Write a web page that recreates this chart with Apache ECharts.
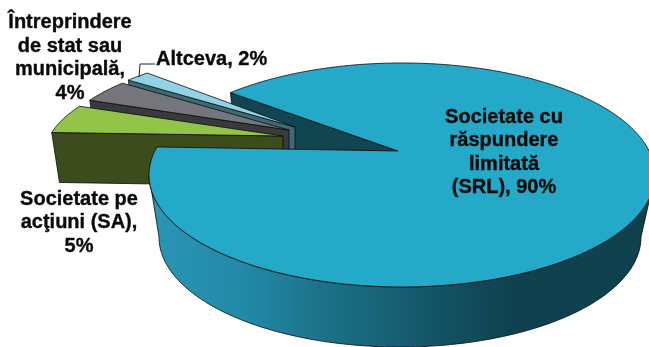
<!DOCTYPE html>
<html>
<head>
<meta charset="utf-8">
<style>html,body{margin:0;padding:0;background:#fff}#chart{width:649px;height:347px}</style>
<script src="https://cdn.jsdelivr.net/npm/echarts@6/dist/echarts.min.js"></script>
</head>
<body>
<div id="chart"></div>
<script>
// Data
const categories = ['Societate cu răspundere limitată (SRL)', 'Societate pe acţiuni (SA)', 'Întreprindere de stat sau municipală', 'Altceva'];
const shares = [90, 5, 4, 2];
const labels = [
  'Societate cu\nrăspundere\nlimitată\n(SRL), 90%',
  'Societate pe\nacţiuni (SA),\n5%',
  'Întreprindere\nde stat sau\nmunicipală,\n4%',
  'Altceva, 2%'
];
const topColors = ['#24a9c9', '#93c449', '#75767b', '#8fd3e5'];
const wallColors = ['#11454f', '#3d4c1c', '#3a3a3c', '#3e6a76'];

// View of the tilted disc
const DEG_PER_PERCENT = 3.6;
const START_ANGLE = 308.2;       // degrees clockwise from the far side
const TILT = 0.214;              // how far perspective pulls the pie centre to the far side
const SIDE_ANGLE = 12.4;         // silhouette of the disc, degrees past 90/270 (from TILT)
const mainTop = {ax: 398, ay: 151, rx: 253, ry: 112, dx: 4};
const mainBottom = {ax: 396, ay: 213.5, rx: 241, ry: 110, dx: 4};
const explode = [null,
  {x: -115, y: -15, rx: 243, brx: 235},
  {x: -109, y: -21, rx: 238, brx: 230},
  {x: -103, y: -24, rx: 238, brx: 230}];
const sliceSize = {ry: 97, depth: 50};
const sliceOrder = [0, 4, 3, 2];
const labelPlace = [
  {x: 504, y: 152.5, align: 'center'},
  {x: 79, y: 222.5, align: 'center'},
  {x: 70, y: 58, align: 'center'},
  {x: 156, y: 59, align: 'left'}
];

function project(e, deg) {
  const a = deg * Math.PI / 180, u = Math.sin(a), v = Math.cos(a);
  const w = 1 + TILT * v;
  const X = Math.sqrt(1 - TILT * TILT) * u / w;
  const Y = (v + TILT) / w;
  const cx = e.ax + e.dx, cy = e.ay + TILT * e.ry;
  return [cx + e.rx * X, cy - e.ry * Y];
}
function arc(e, from, to) {
  const pts = [], n = Math.max(2, Math.ceil(Math.abs(to - from)));
  for (let i = 0; i <= n; i++) pts.push(project(e, from + (to - from) * i / n));
  return pts;
}
function face(points, fill, z2) {
  return {type: 'polygon', z2, shape: {points},
    style: {fill, stroke: '#0b0b0b', lineWidth: 0.8, lineJoin: 'round'}};
}

const wallGradient = new echarts.graphic.LinearGradient(150, 0, 650, 0, [
  {offset: 0, color: '#2996b5'},
  {offset: 0.2, color: '#2288a6'},
  {offset: 0.34, color: '#1c7389'},
  {offset: 0.58, color: '#135365'},
  {offset: 0.72, color: '#0f424f'},
  {offset: 1, color: '#0f404d'}
], true);

function renderItem(params, api) {
  const i = params.dataIndex;
  const before = shares.slice(0, i).reduce((s, v) => s + v, 0);
  const span = api.value(0) * DEG_PER_PERCENT;
  const from = START_ANGLE + before * DEG_PER_PERCENT;
  const to = from + span;
  const children = [];
  if (i === 0) {
    const aTop = project(mainTop, from), aBot = project(mainBottom, from);
    children.push(face([aTop, [mainTop.ax, mainTop.ay], [mainBottom.ax, mainBottom.ay], aBot], wallColors[0], 1));
    const sil1 = 360 + 90 + SIDE_ANGLE, sil2 = 360 + 270 - SIDE_ANGLE;
    children.push(face(arc(mainTop, sil1, sil2).concat(arc(mainBottom, sil2, sil1)), wallGradient, 5));
    children.push(face([[mainTop.ax, mainTop.ay]].concat(arc(mainTop, from, to)), topColors[0], 6));
  } else {
    const off = explode[i];
    const top = {ax: mainTop.ax + off.x, ay: mainTop.ay + off.y, rx: off.rx, ry: sliceSize.ry, dx: 4};
    const bot = {ax: top.ax, ay: top.ay + sliceSize.depth, rx: off.brx, ry: sliceSize.ry, dx: 4};
    const cornerTop = project(top, from), cornerBot = project(bot, from);
    children.push(face([cornerTop, [top.ax, top.ay], [bot.ax, bot.ay], cornerBot], wallColors[i], sliceOrder[i]));
    children.push(face([[top.ax, top.ay]].concat(arc(top, from, to)), topColors[i], sliceOrder[i]));
  }
  const p = labelPlace[i];
  children.push({type: 'text', z2: 10, style: {
    text: labels[i], x: p.x, y: p.y, align: p.align, verticalAlign: 'middle',
    font: 'bold 20px "Liberation Sans", Arial, sans-serif', lineHeight: 23.5,
    fill: '#0a0a0a', stroke: '#0a0a0a', lineWidth: 0.35
  }});
  if (i === 3) {
    children.push({type: 'polyline', z2: 9, shape: {points: [[155, 64], [140, 64], [139, 77]]},
      style: {fill: 'none', stroke: '#222', lineWidth: 1}});
  }
  return {type: 'group', children};
}

const chart = echarts.init(document.getElementById('chart'), null, {renderer: 'canvas'});
chart.setOption({
  animation: false,
  backgroundColor: '#ffffff',
  series: [{
    type: 'custom',
    coordinateSystem: 'none',
    renderItem,
    silent: true,
    clip: false,
    data: shares.map((v, i) => ({name: categories[i], value: [v]}))
  }]
});
</script>
</body>
</html>
